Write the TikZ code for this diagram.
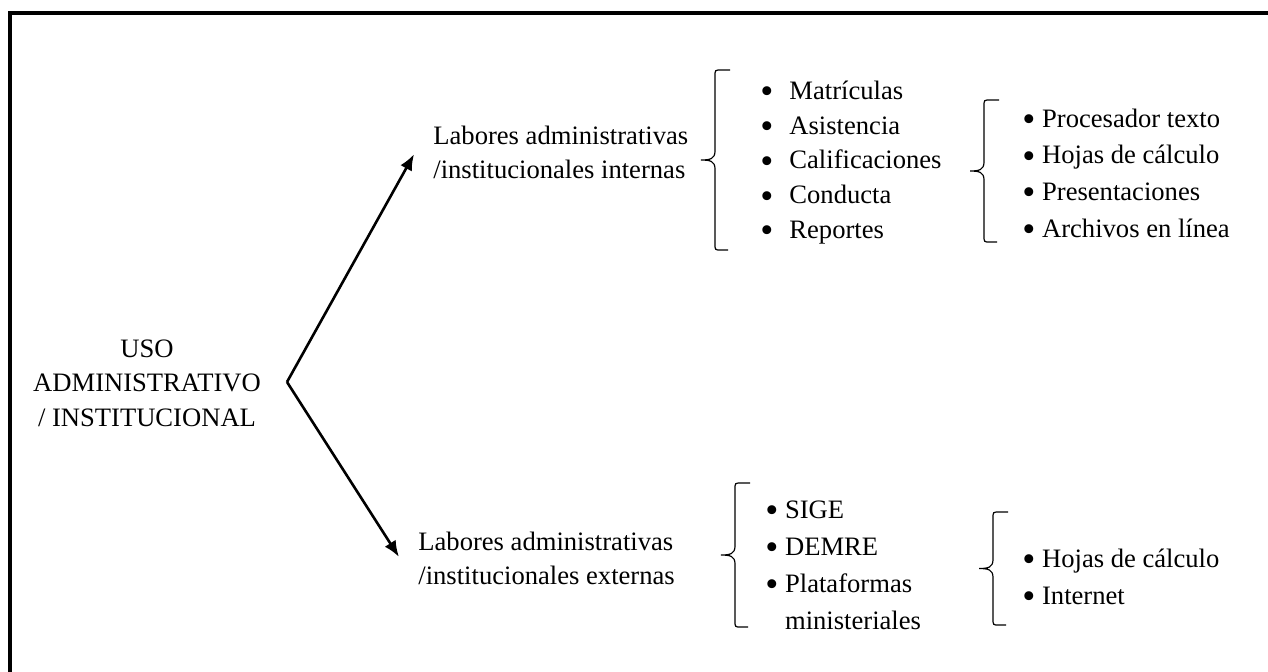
\documentclass[tikz,border=0pt]{standalone}
\usepackage{fontspec}
\setmainfont{Liberation Serif}
\usetikzlibrary{arrows.meta}

\tikzset{
  txt/.style={inner sep=0pt},
  labor/.style={txt, align=left, anchor=west, inner xsep=9pt,
                font=\fontsize{13.3}{17}\selectfont},
  lista/.style={txt, align=left, anchor=west},
  llave/.style={line width=0.6pt},
}
% viñeta mas gruesa, como la del original
\newcommand{\vin}{\raisebox{-0.35ex}{\scalebox{1.4}{•}}}
\newcommand{\pto}{\makebox[14.5pt][l]{\vin}}
% llave: x de los extremos, y arriba, y abajo
\newcommand{\llave}[3]{%
  \draw[llave] (#1,#2) -- ({#1-9},#2) .. controls ({#1-15},#2) .. ({#1-15},{#2+6})
    -- ({#1-15},{(#2+#3)/2-9})
    .. controls ({#1-15},{(#2+#3)/2-1}) and ({#1-20},{(#2+#3)/2}) .. ({#1-29},{(#2+#3)/2})
    .. controls ({#1-20},{(#2+#3)/2}) and ({#1-15},{(#2+#3)/2+1}) .. ({#1-15},{(#2+#3)/2+9})
    -- ({#1-15},{#3-6}) .. controls ({#1-15},#3) .. ({#1-9},#3) -- (#1,#3);}

\begin{document}
\begin{tikzpicture}[x=0.5pt,y=-0.5pt,>={Latex[length=8pt,width=6.5pt]},shorten >=1pt]
    \useasboundingbox (0,0) rectangle (1268,671);
    \draw[line width=1.6pt] (10,13) rectangle (1300,700);

    \node[txt,align=center,font=\fontsize{13.3}{17.25}\selectfont] (uso) at (147,383)
        {USO\\ADMINISTRATIVO\\/ INSTITUCIONAL};
    \coordinate (v) at (287,382);

    \node[labor] (int) at (415,152.5) {Labores administrativas\\/institucionales internas};
    \node[labor] (ext) at (400,558.5) {Labores administrativas\\/institucionales externas};

    \node[lista,font=\fontsize{13.3}{17.4}\selectfont] (tareas) at (760,162.5)
        {\pto Matrículas\\\pto Asistencia\\\pto Calificaciones\\\pto Conducta\\\pto Reportes};
    \node[lista,font=\fontsize{13.3}{18.35}\selectfont] (herr) at (1022,175)
        {\vin{} Procesador texto\\\vin{} Hojas de cálculo\\\vin{} Presentaciones\\\vin{} Archivos en línea};
    \node[lista,font=\fontsize{13.3}{18.5}\selectfont] (plat) at (765,567.5)
        {\vin{} SIGE\\\vin{} DEMRE\\\vin{} Plataformas\\\phantom{\vin{} }ministeriales};
    \node[lista,font=\fontsize{13.3}{18.5}\selectfont] (herr2) at (1022,578.5)
        {\vin{} Hojas de cálculo\\\vin{} Internet};

    \path[->,line width=1.3pt] (v) edge (int.west);
    \path[->,line width=1.3pt] (v) edge (ext.west);

    % llaves
    \llave{730}{70}{250}
    \llave{999}{100}{242}
    \llave{750}{483}{627}
    \llave{1008}{512}{625}

  \end{tikzpicture}
\end{document}
